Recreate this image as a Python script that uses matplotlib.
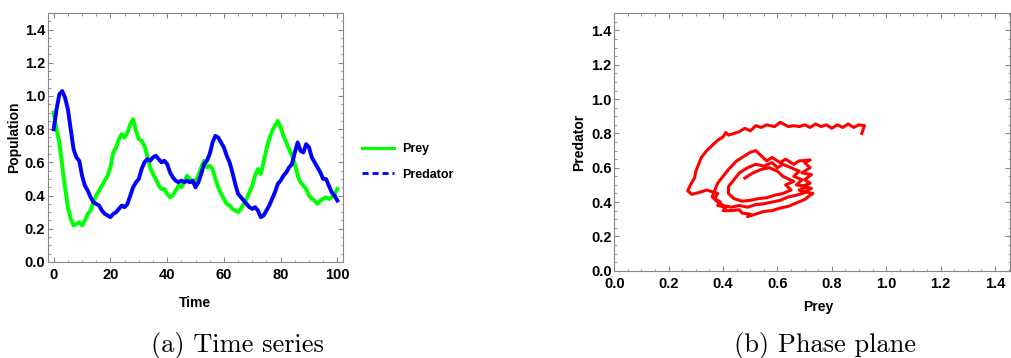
import matplotlib
matplotlib.use("Agg")
import matplotlib.pyplot as plt
import numpy as np
from matplotlib.lines import Line2D
from matplotlib.ticker import MultipleLocator

plt.rcParams['font.family'] = ['Liberation Sans', 'DejaVu Sans']
plt.rcParams['font.weight'] = 'bold'

# ---- data -------------------------------------------------------
time = np.arange(0, 101)

prey = [0.90, 0.80, 0.72, 0.58, 0.45, 0.33, 0.26, 0.22, 0.23, 0.24,
        0.22, 0.25, 0.29, 0.31, 0.36, 0.40, 0.43, 0.46, 0.49, 0.52,
        0.57, 0.66, 0.69, 0.74, 0.77, 0.75, 0.78, 0.83, 0.86, 0.79,
        0.74, 0.73, 0.70, 0.64, 0.57, 0.53, 0.50, 0.46, 0.44, 0.44,
        0.41, 0.39, 0.40, 0.43, 0.46, 0.45, 0.48, 0.52, 0.50, 0.48,
        0.49, 0.52, 0.57, 0.61, 0.57, 0.58, 0.56, 0.50, 0.45, 0.41,
        0.38, 0.35, 0.34, 0.32, 0.31, 0.30, 0.32, 0.35, 0.38, 0.42,
        0.46, 0.52, 0.56, 0.53, 0.60, 0.68, 0.74, 0.79, 0.82, 0.85,
        0.81, 0.76, 0.72, 0.68, 0.64, 0.59, 0.52, 0.48, 0.46, 0.44,
        0.40, 0.38, 0.37, 0.35, 0.37, 0.38, 0.39, 0.38, 0.39, 0.41,
        0.44]

predator = [0.80, 0.92, 1.01, 1.03, 0.99, 0.92, 0.80, 0.68, 0.63, 0.61,
            0.52, 0.46, 0.43, 0.39, 0.36, 0.35, 0.34, 0.31, 0.29, 0.28,
            0.27, 0.29, 0.30, 0.32, 0.34, 0.33, 0.35, 0.40, 0.45, 0.48,
            0.50, 0.56, 0.60, 0.62, 0.61, 0.63, 0.64, 0.62, 0.60, 0.61,
            0.59, 0.54, 0.51, 0.49, 0.48, 0.49, 0.48, 0.49, 0.48, 0.49,
            0.45, 0.48, 0.53, 0.59, 0.61, 0.65, 0.72, 0.76, 0.75, 0.72,
            0.69, 0.64, 0.60, 0.54, 0.47, 0.41, 0.39, 0.37, 0.35, 0.33,
            0.32, 0.33, 0.31, 0.27, 0.28, 0.31, 0.34, 0.38, 0.42, 0.47,
            0.49, 0.52, 0.54, 0.57, 0.59, 0.66, 0.72, 0.67, 0.66, 0.71,
            0.69, 0.63, 0.60, 0.57, 0.54, 0.50, 0.50, 0.46, 0.42, 0.40,
            0.37]

# phase plane path (separate run): prey on x, predator on y
phase_prey = [0.91, 0.92, 0.90, 0.88, 0.86, 0.84, 0.82, 0.80, 0.78, 0.76,
              0.74, 0.72, 0.70, 0.68, 0.66, 0.64, 0.61, 0.59, 0.56, 0.54,
              0.52, 0.50, 0.48, 0.46, 0.44, 0.42, 0.41, 0.40, 0.38, 0.36,
              0.34, 0.32, 0.31, 0.30, 0.295, 0.28, 0.27, 0.285, 0.31, 0.34,
              0.36, 0.38,
              0.37, 0.39, 0.38, 0.41, 0.40, 0.43, 0.46, 0.47, 0.50, 0.49,
              0.52, 0.55, 0.58, 0.61, 0.64, 0.67, 0.70, 0.72, 0.73, 0.70,
              0.725, 0.69, 0.72, 0.70, 0.725, 0.69, 0.72, 0.70, 0.72, 0.68,
              0.66, 0.63, 0.61, 0.58, 0.56, 0.54, 0.52, 0.50, 0.48, 0.45,
              0.42, 0.40, 0.38, 0.37, 0.36, 0.38, 0.40, 0.43, 0.46, 0.49,
              0.52, 0.55, 0.58, 0.61, 0.64, 0.67, 0.70, 0.68, 0.71, 0.67,
              0.69, 0.66, 0.68, 0.65, 0.62, 0.60, 0.58, 0.55, 0.52, 0.49,
              0.46, 0.44, 0.42, 0.42, 0.44, 0.47, 0.50, 0.53, 0.56, 0.59,
              0.62, 0.65, 0.63, 0.66, 0.62, 0.60, 0.57, 0.54, 0.51, 0.48]

phase_pred = [0.80, 0.845, 0.85, 0.835, 0.855, 0.835, 0.85, 0.83, 0.85, 0.84,
              0.855, 0.835, 0.85, 0.84, 0.845, 0.84, 0.865, 0.84, 0.85, 0.835,
              0.845, 0.815, 0.83, 0.81, 0.80, 0.79, 0.805, 0.78, 0.76, 0.73,
              0.70, 0.66, 0.62, 0.58, 0.54, 0.50, 0.465, 0.445, 0.455, 0.47,
              0.46, 0.45,
              0.42, 0.40, 0.38, 0.37, 0.35, 0.35, 0.355, 0.335, 0.33, 0.315,
              0.33, 0.345, 0.35, 0.365, 0.375, 0.395, 0.415, 0.44, 0.45, 0.46,
              0.48, 0.49, 0.51, 0.53, 0.56, 0.57, 0.60, 0.63, 0.645, 0.64,
              0.62, 0.65, 0.63, 0.66, 0.64, 0.67, 0.70, 0.69, 0.67, 0.64,
              0.59, 0.55, 0.51, 0.47, 0.43, 0.40, 0.38, 0.37, 0.38, 0.37,
              0.385, 0.39, 0.40, 0.41, 0.43, 0.44, 0.455, 0.47, 0.49, 0.50,
              0.53, 0.55, 0.58, 0.60, 0.62, 0.60, 0.63, 0.61, 0.62, 0.60,
              0.57, 0.53, 0.49, 0.45, 0.42, 0.405, 0.41, 0.42, 0.425, 0.44,
              0.45, 0.47, 0.50, 0.52, 0.55, 0.58, 0.60, 0.59, 0.57, 0.54]

frame_col = '#888888'


def style(ax):
    for s in ax.spines.values():
        s.set_color(frame_col)
        s.set_linewidth(0.8)
    ax.tick_params(which='both', direction='in', top=True, right=True,
                   color=frame_col, labelsize=10.5)
    ax.tick_params(which='major', length=3.5, width=0.8)
    ax.tick_params(which='minor', length=1.8, width=0.6)
    ax.tick_params(axis='x', pad=4.5)
    ax.tick_params(axis='y', pad=2)
    for lab in ax.get_xticklabels() + ax.get_yticklabels():
        lab.set_fontweight('bold')


fig = plt.figure(figsize=(10.11, 3.58), dpi=100)

# ---- (a) time series --------------------------------------------
ax1 = fig.add_axes([0.0475, 0.2682, 0.2918, 0.6955])
ax1.plot(time, prey, color=(0, 1, 0), lw=2.8)
ax1.plot(time, predator, color=(0, 0, 1), lw=2.8)
ax1.set_xlim(-2, 102)
ax1.set_ylim(0, 1.5)
ax1.xaxis.set_major_locator(MultipleLocator(20))
ax1.xaxis.set_minor_locator(MultipleLocator(5))
ax1.yaxis.set_major_locator(MultipleLocator(0.2))
ax1.yaxis.set_minor_locator(MultipleLocator(0.05))
ax1.yaxis.set_major_formatter('{x:.1f}')
style(ax1)
ax1.set_xlabel('Time', fontsize=10, fontweight='bold')
ax1.set_ylabel('Population', fontsize=10, fontweight='bold')
ax1.xaxis.set_label_coords(0.498, -0.135)
ax1.yaxis.set_label_coords(-0.09, 0.5)

handles = [Line2D([], [], color=(0, 1, 0), lw=2.2),
           Line2D([], [], color=(0, 0, 1), lw=2, linestyle=(0, (2.2, 1.4)))]
fig.legend(handles, ['Prey', 'Predator'], loc='center left',
           bbox_to_anchor=(0.353, 0.5475), frameon=False, borderaxespad=0,
           handlelength=2.6, handletextpad=0.6, labelspacing=1.1,
           prop={'size': 9, 'weight': 'bold'})

# ---- (b) phase plane --------------------------------------------
ax2 = fig.add_axes([0.6076, 0.2439, 0.3914, 0.7189])
ax2.plot(phase_prey, phase_pred, color=(1, 0, 0), lw=2.2)
ax2.set_xlim(0, 1.455)
ax2.set_ylim(0, 1.5)
for axis in (ax2.xaxis, ax2.yaxis):
    axis.set_major_locator(MultipleLocator(0.2))
    axis.set_minor_locator(MultipleLocator(0.05))
    axis.set_major_formatter('{x:.1f}')
style(ax2)
ax2.set_xlabel('Prey', fontsize=10, fontweight='bold')
ax2.set_ylabel('Predator', fontsize=10, fontweight='bold')
ax2.xaxis.set_label_coords(0.515, -0.115)
ax2.yaxis.set_label_coords(-0.072, 0.5)

# ---- captions ---------------------------------------------------
fig.text(237 / 1011, 0.036, '(a) Time series', family='cmr10', fontsize=19,
         ha='center', va='center')
fig.text(825 / 1011, 0.036, '(b) Phase plane', family='cmr10', fontsize=19,
         ha='center', va='center')

fig.savefig('out.png', dpi=100)
